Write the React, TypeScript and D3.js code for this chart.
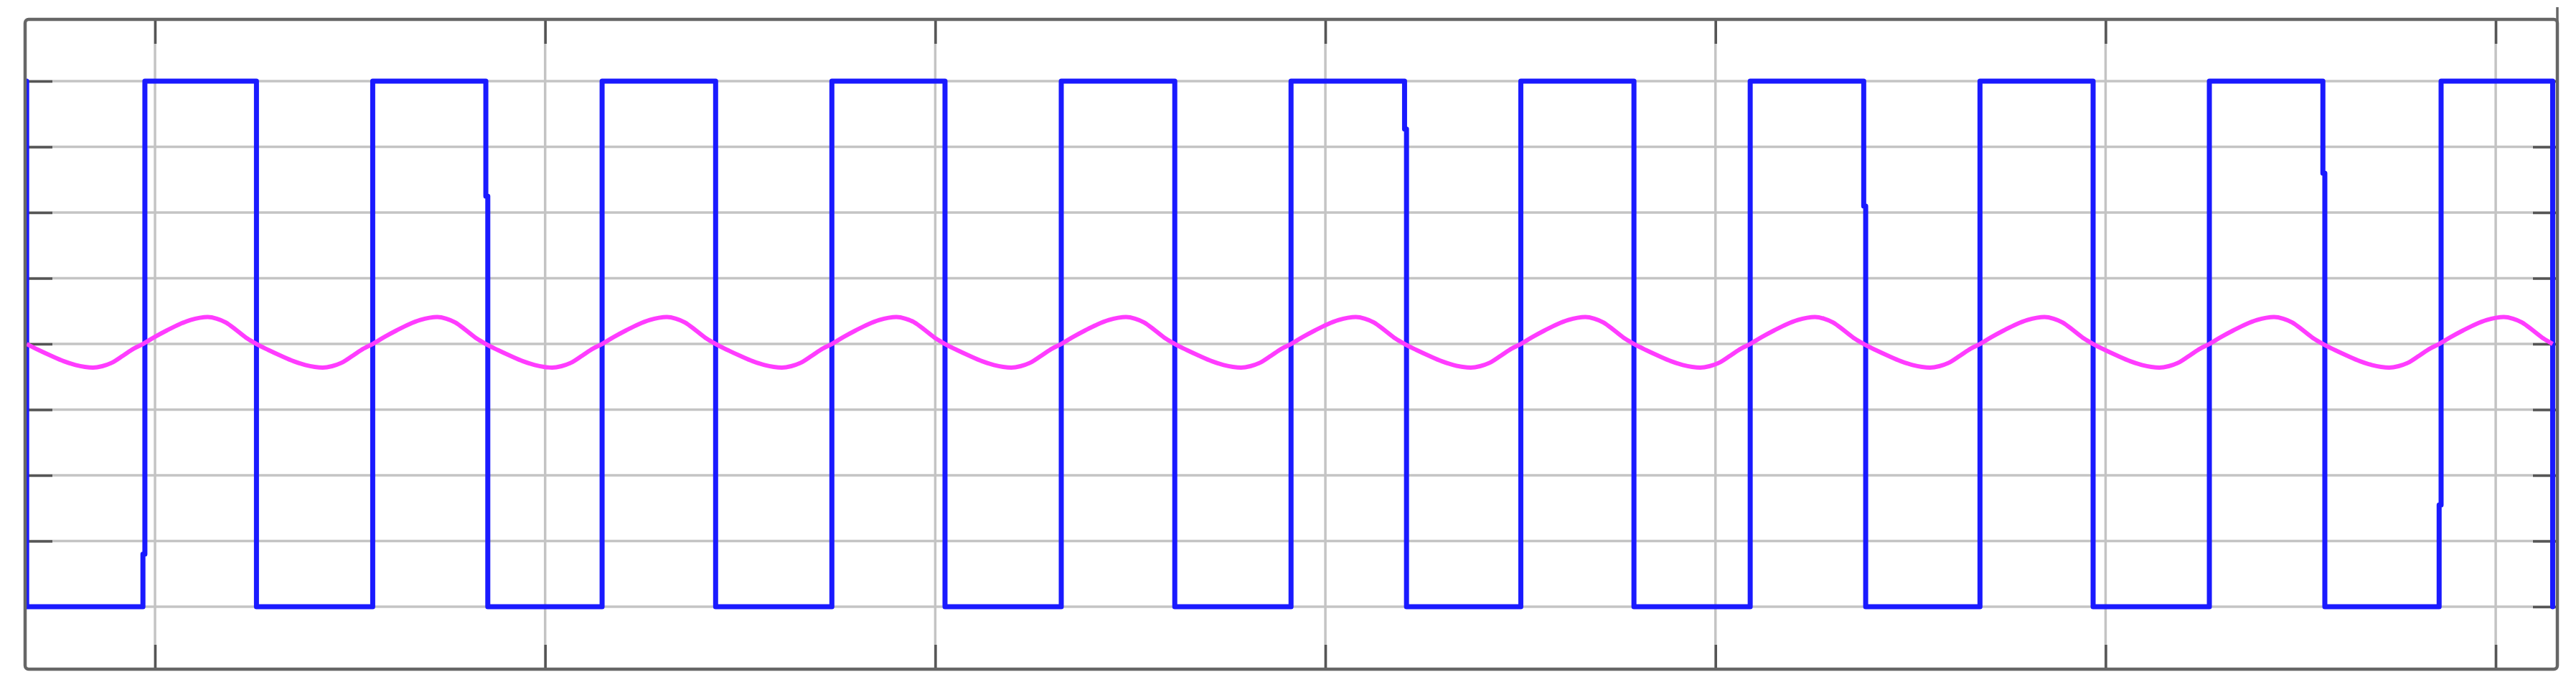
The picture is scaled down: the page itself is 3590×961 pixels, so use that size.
import React, { useEffect, useRef } from 'react';
import * as d3 from 'd3';

// time axis (grid units), gridlines every 10
const xTicks = [0, 10, 20, 30, 40, 50, 60];
const yTicks = [-4, -3, -2, -1, 0, 1, 2, 3, 4];
const xLimits = [-3.33, 61.58];
const yLimits = [-4.95, 4.94];

// square wave switching instants
const fallingEdges = [-3.29, 2.6, 8.48, 14.37, 20.25, 26.14, 32.03, 37.91, 43.8, 49.68, 55.57, 61.46];
const risingEdges = [-0.31, 5.58, 11.46, 17.35, 23.23, 29.12, 35.01, 40.89, 46.78, 52.66, 58.55];
// little steps on some edges (level where the edge jogs sideways)
const fallingKinks = [null, null, 2.25, null, null, null, 3.27, null, 2.1, null, 2.6, null];
const risingKinks = [-3.2, null, null, null, null, null, null, null, null, null, -2.45];
const squareHigh = 4;
const squareLow = -4;

// one half cycle of the pink trace: [fraction of half period, fraction of amplitude]
const halfCycleShape = [
  [0, 0], [0.1, 0.25], [0.21, 0.5], [0.32, 0.73], [0.42, 0.89], [0.5, 0.97],
  [0.57, 1], [0.65, 0.94], [0.73, 0.8], [0.83, 0.49], [0.92, 0.2], [1, 0],
];
const wavePeak = 0.41;
const waveTrough = -0.36;

const W = 3590;
const H = 961;
const frame = { left: 35, right: 3564, top: 27, bottom: 932 };

export default function App() {
  const svgRef = useRef(null);

  useEffect(() => {
    const svg = d3.select(svgRef.current);
    svg.selectAll('*').remove();

    const x = d3.scaleLinear().domain(xLimits).range([frame.left, frame.right]);
    const y = d3.scaleLinear().domain(yLimits).range([frame.bottom, frame.top]);

    svg.append('rect').attr('width', W).attr('height', H).attr('fill', '#ffffff');

    // grid
    const grid = svg.append('g');
    grid.selectAll('line.v')
      .data(xTicks)
      .join('line')
      .attr('x1', d => x(d)).attr('x2', d => x(d))
      .attr('y1', frame.top).attr('y2', frame.bottom)
      .attr('stroke', '#c4c4c4').attr('stroke-width', 3.5);
    grid.selectAll('line.h')
      .data(yTicks)
      .join('line')
      .attr('y1', d => y(d)).attr('y2', d => y(d))
      .attr('x1', frame.left).attr('x2', frame.right)
      .attr('stroke', '#c4c4c4').attr('stroke-width', 3.5);

    // inward tick marks on all four sides
    const tickLen = 34;
    const axes = [
      d3.axisTop(x).tickValues(xTicks).tickSizeInner(-tickLen),
      d3.axisBottom(x).tickValues(xTicks).tickSizeInner(-tickLen),
      d3.axisLeft(y).tickValues(yTicks).tickSizeInner(-tickLen - 4),
      d3.axisRight(y).tickValues(yTicks).tickSizeInner(-tickLen),
    ];
    const pos = [
      `translate(0,${frame.top})`,
      `translate(0,${frame.bottom})`,
      `translate(${frame.left},0)`,
      `translate(${frame.right},0)`,
    ];
    axes.forEach((ax, i) => {
      const g = svg.append('g').attr('transform', pos[i])
        .call(ax.tickSizeOuter(0).tickFormat(() => ''));
      g.select('.domain').remove();
      g.selectAll('line').attr('stroke', '#555555').attr('stroke-width', 3.5);
    });

    // square wave
    const jog = 0.05;
    const sq = [];
    fallingEdges.forEach((f, k) => {
      const kf = fallingKinks[k];
      sq.push([f, squareHigh]);
      if (kf != null) {
        sq.push([f, kf]);
        sq.push([f + jog, kf]);
        sq.push([f + jog, squareLow]);
      } else {
        sq.push([f, squareLow]);
      }
      if (k < risingEdges.length) {
        const r = risingEdges[k];
        const kr = risingKinks[k];
        sq.push([r, squareLow]);
        if (kr != null) {
          sq.push([r, kr]);
          sq.push([r + jog, kr]);
          sq.push([r + jog, squareHigh]);
        } else {
          sq.push([r, squareHigh]);
        }
      }
    });
    const sqLine = d3.line().x(d => x(d[0])).y(d => y(d[1]));
    svg.append('path')
      .attr('d', sqLine(sq))
      .attr('fill', 'none')
      .attr('stroke', '#1a1aff')
      .attr('stroke-width', 7)
      .attr('stroke-linejoin', 'round')
      .attr('stroke-linecap', 'round');

    // pink trace
    const wave = [];
    fallingEdges.forEach((f, k) => {
      if (k >= risingEdges.length) return;
      const r = risingEdges[k];
      const fNext = fallingEdges[k + 1];
      halfCycleShape.forEach(([p, v], j) => {
        if (k > 0 && j === 0) return;
        wave.push([f + p * (r - f), v * waveTrough]);
      });
      halfCycleShape.forEach(([p, v], j) => {
        if (j === 0) return;
        wave.push([r + p * (fNext - r), v * wavePeak]);
      });
    });
    const waveLine = d3.line().x(d => x(d[0])).y(d => y(d[1])).curve(d3.curveMonotoneX);
    svg.append('path')
      .attr('d', waveLine(wave))
      .attr('fill', 'none')
      .attr('stroke', '#ff3cff')
      .attr('stroke-width', 6)
      .attr('stroke-linejoin', 'round');

    // axes box
    svg.append('rect')
      .attr('x', frame.left).attr('y', frame.top)
      .attr('width', frame.right - frame.left)
      .attr('height', frame.bottom - frame.top)
      .attr('rx', 5)
      .attr('fill', 'none')
      .attr('stroke', '#666666')
      .attr('stroke-width', 4.5);
    svg.append('line')
      .attr('x1', frame.right).attr('x2', frame.right)
      .attr('y1', 10).attr('y2', frame.top + 10)
      .attr('stroke', '#666666').attr('stroke-width', 3.5);
  }, []);

  return (
    <svg
      ref={svgRef}
      width={W}
      height={H}
      style={{ position: 'fixed', top: 0, left: 0, display: 'block' }}
    />
  );
}
